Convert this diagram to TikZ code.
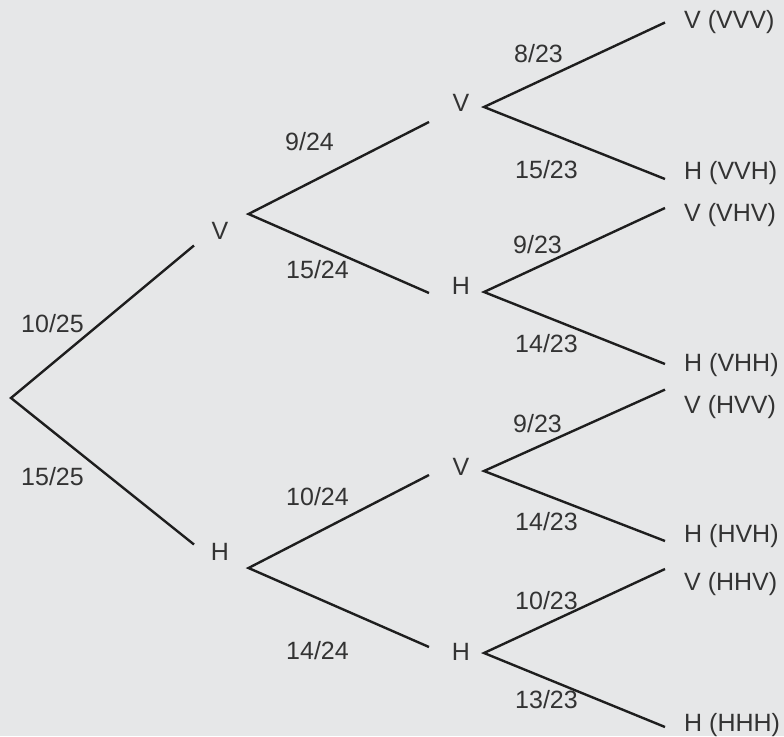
\documentclass[tikz,border=0pt]{standalone}
\usepackage{fontspec}
\setmainfont{Liberation Sans}
\definecolor{bg}{HTML}{E6E7E8}
\definecolor{txt}{HTML}{333333}
\definecolor{ln}{HTML}{1E1E1E}
\begin{document}
\begin{tikzpicture}[x=1pt,y=-1pt,
  lbl/.style={font=\fontsize{25}{30}\selectfont, text=txt, inner sep=0pt, text height=17.9pt, text depth=0pt},
  prob/.style={lbl, anchor=west},
  leaf/.style={lbl, anchor=west},
  edge/.style={line width=2.4pt, draw=ln}]
\fill[bg] (0,0) rectangle (784,736);
\useasboundingbox (0,0) rectangle (784,736);

% root
\coordinate (r) at (11,398);
% level 1
\coordinate (Vin) at (194,245.5);  \node[lbl] (V) at (220,231) {V};   \coordinate (Vout) at (248.5,214);
\coordinate (Hin) at (194,544.5);  \node[lbl] (H) at (220,551.5) {H}; \coordinate (Hout) at (248.5,568);
% level 2
\coordinate (VVin) at (429,122); \node[lbl] (VV) at (461,103) {V};   \coordinate (VVout) at (484,107);
\coordinate (VHin) at (429,293); \node[lbl] (VH) at (461,286) {H};   \coordinate (VHout) at (484,292);
\coordinate (HVin) at (429,475); \node[lbl] (HV) at (461,467) {V};   \coordinate (HVout) at (484,471);
\coordinate (HHin) at (429,647); \node[lbl] (HH) at (461,651.5) {H}; \coordinate (HHout) at (484,653);
% level 3 ends
\coordinate (VVVin) at (665,22.5);
\coordinate (VVHin) at (665,179);
\coordinate (VHVin) at (665,208);
\coordinate (VHHin) at (665,364);
\coordinate (HVVin) at (665,389.6);
\coordinate (HVHin) at (665,541);
\coordinate (HHVin) at (665,569);
\coordinate (HHHin) at (665,727);
% leaves
\node[leaf] (VVV) at (684,20)    {V (VVV)};
\node[leaf] (VVH) at (684,171)   {H (VVH)};
\node[leaf] (VHV) at (684,213)   {V (VHV)};
\node[leaf] (VHH) at (684,363)   {H (VHH)};
\node[leaf] (HVV) at (684,404.6) {V (HVV)};
\node[leaf] (HVH) at (684,534)   {H (HVH)};
\node[leaf] (HHV) at (684,582)   {V (HHV)};
\node[leaf] (HHH) at (684,722.5) {H (HHH)};

% edges
\draw[edge] (Vin) -- (r) -- (Hin);
\draw[edge] (VVin) -- (Vout) -- (VHin);
\draw[edge] (HVin) -- (Hout) -- (HHin);
\draw[edge] (VVVin) -- (VVout) -- (VVHin);
\draw[edge] (VHVin) -- (VHout) -- (VHHin);
\draw[edge] (HVVin) -- (HVout) -- (HVHin);
\draw[edge] (HHVin) -- (HHout) -- (HHHin);

% probabilities
\node[prob] (p1) at (21,324)    {10/25};
\node[prob] (p2) at (21,476.5)  {15/25};
\node[prob] (p3) at (285,142)   {9/24};
\node[prob] (p4) at (286,270)   {15/24};
\node[prob] (p5) at (286,496.6) {10/24};
\node[prob] (p6) at (286,651)   {14/24};
\node[prob] (p7) at (514,54)    {8/23};
\node[prob] (p8) at (515,170)   {15/23};
\node[prob] (p9) at (513,245)   {9/23};
\node[prob] (p10) at (515,343.6) {14/23};
\node[prob] (p11) at (513,423.4) {9/23};
\node[prob] (p12) at (515,522)   {14/23};
\node[prob] (p13) at (515,601)   {10/23};
\node[prob] (p14) at (515,700)   {13/23};
\end{tikzpicture}
\end{document}
